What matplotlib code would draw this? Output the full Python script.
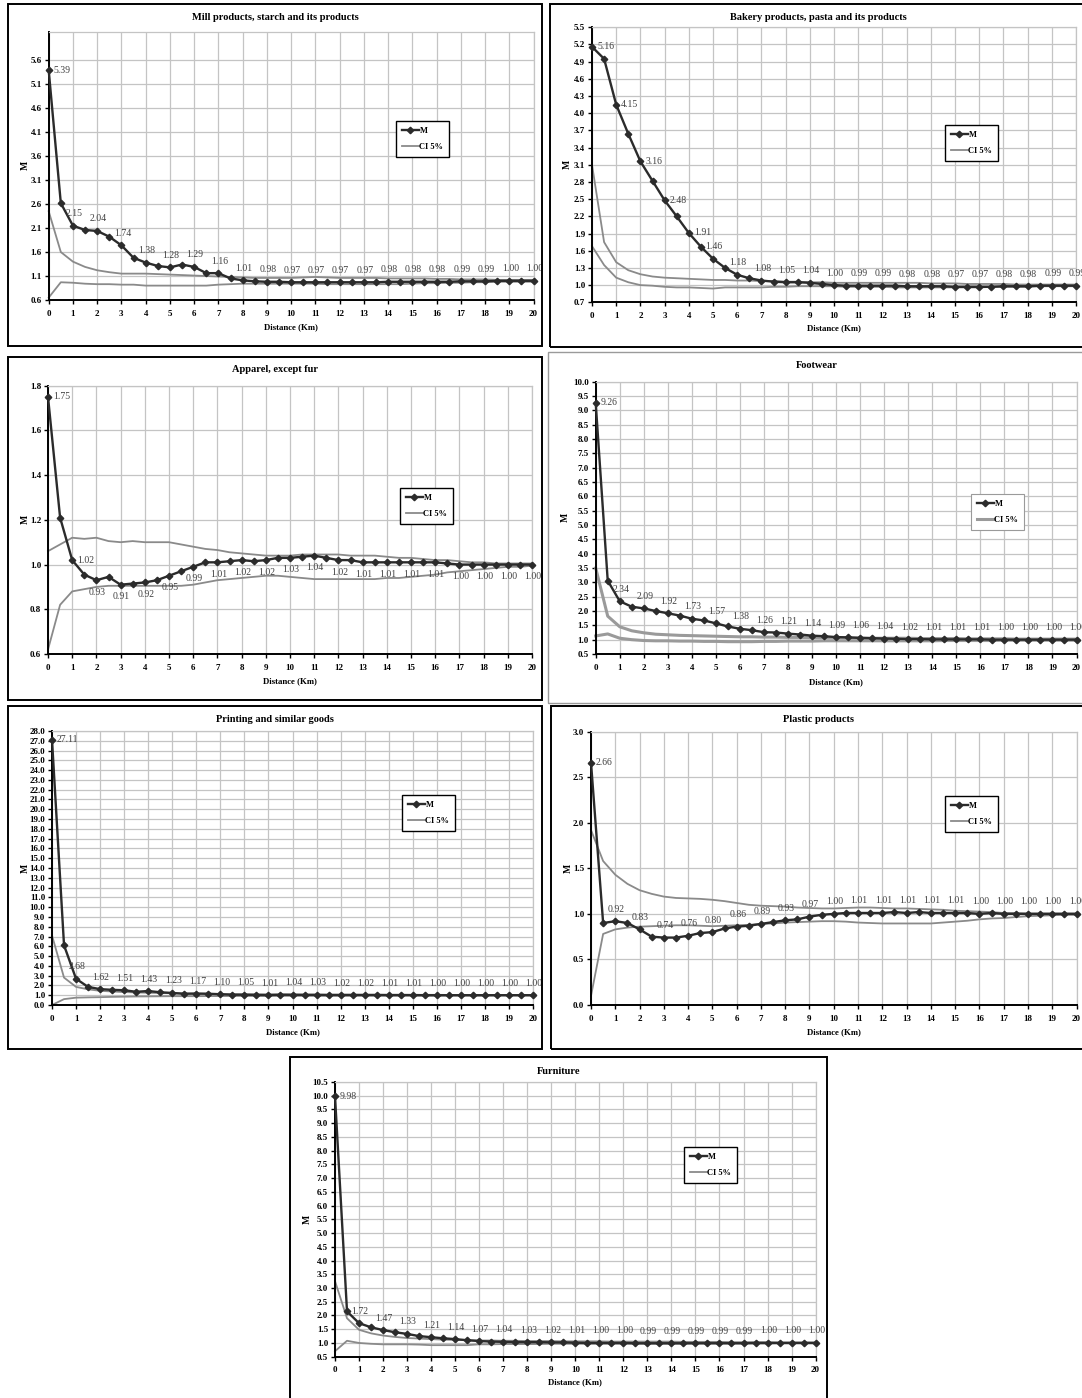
import matplotlib
matplotlib.use("Agg")
import matplotlib.pyplot as plt
from matplotlib.patches import Rectangle
from matplotlib.lines import Line2D

plt.rcParams['font.family'] = ['Liberation Serif', 'DejaVu Serif']

W, H = 1082, 1398

# ---------------- DATA ----------------
distance = [0.0, 0.5, 1.0, 1.5, 2.0, 2.5, 3.0, 3.5, 4.0, 4.5, 5.0, 5.5, 6.0, 6.5, 7.0, 7.5,
            8.0, 8.5, 9.0, 9.5, 10.0, 10.5, 11.0, 11.5, 12.0, 12.5, 13.0, 13.5, 14.0, 14.5,
            15.0, 15.5, 16.0, 16.5, 17.0, 17.5, 18.0, 18.5, 19.0, 19.5, 20.0]
x_ticks = list(range(0, 21))

titles = ["Mill products, starch and its products",
          "Bakery products, pasta and its products",
          "Apparel, except fur",
          "Footwear",
          "Printing and similar goods",
          "Plastic products",
          "Furniture"]

mill_m = [5.39, 2.62, 2.15, 2.06, 2.04, 1.92, 1.74, 1.48, 1.38, 1.31, 1.28, 1.34, 1.29, 1.16, 1.16, 1.05,
          1.01, 0.99, 0.98, 0.98, 0.97, 0.97, 0.97, 0.97, 0.97, 0.97, 0.97, 0.97, 0.98, 0.98,
          0.98, 0.98, 0.98, 0.98, 0.99, 0.99, 0.99, 1.00, 1.00, 1.00, 1.00]
mill_hi = [2.45, 1.60, 1.40, 1.29, 1.22, 1.18, 1.15, 1.15, 1.15, 1.14, 1.13, 1.12, 1.11, 1.10, 1.09, 1.08,
           1.07, 1.06, 1.06, 1.06, 1.06, 1.07, 1.08, 1.07, 1.06, 1.06, 1.06, 1.06, 1.05, 1.05,
           1.05, 1.05, 1.04, 1.04, 1.03, 1.03, 1.03, 1.02, 1.02, 1.02, 1.02]
mill_lo = [0.65, 0.97, 0.96, 0.94, 0.93, 0.93, 0.92, 0.92, 0.90, 0.90, 0.90, 0.90, 0.90, 0.90, 0.92, 0.93,
           0.94, 0.94, 0.94, 0.94, 0.94, 0.94, 0.94, 0.93, 0.93, 0.93, 0.93, 0.93, 0.93, 0.93,
           0.94, 0.95, 0.95, 0.96, 0.96, 0.97, 0.97, 0.98, 0.98, 0.98, 0.98]

bakery_m = [5.16, 4.95, 4.15, 3.64, 3.16, 2.82, 2.48, 2.20, 1.91, 1.67, 1.46, 1.30, 1.18, 1.12, 1.08, 1.06,
            1.05, 1.05, 1.04, 1.02, 1.00, 0.99, 0.99, 0.99, 0.99, 0.99, 0.98, 0.98, 0.98, 0.98,
            0.97, 0.97, 0.97, 0.97, 0.98, 0.98, 0.98, 0.99, 0.99, 0.99, 0.99]
bakery_hi = [3.10, 1.75, 1.40, 1.26, 1.19, 1.15, 1.13, 1.12, 1.11, 1.10, 1.09, 1.09, 1.08, 1.08, 1.07, 1.07,
             1.06, 1.06, 1.05, 1.05, 1.04, 1.04, 1.04, 1.04, 1.04, 1.04, 1.04, 1.04, 1.03, 1.03,
             1.03, 1.02, 1.02, 1.02, 1.02, 1.01, 1.01, 1.01, 1.01, 1.01, 1.01]
bakery_lo = [1.68, 1.35, 1.13, 1.05, 1.00, 0.99, 0.97, 0.96, 0.96, 0.95, 0.94, 0.96, 0.96, 0.96, 0.96, 0.97,
             0.97, 0.98, 0.98, 0.98, 0.98, 0.97, 0.97, 0.97, 0.97, 0.96, 0.96, 0.96, 0.96, 0.96,
             0.96, 0.96, 0.96, 0.97, 0.97, 0.97, 0.97, 0.98, 0.98, 0.98, 0.98]

apparel_m = [1.75, 1.21, 1.02, 0.955, 0.93, 0.945, 0.91, 0.915, 0.92, 0.93, 0.95, 0.97, 0.99, 1.01, 1.01, 1.015,
             1.02, 1.015, 1.02, 1.03, 1.03, 1.035, 1.04, 1.03, 1.02, 1.02, 1.01, 1.01, 1.01, 1.01,
             1.01, 1.01, 1.01, 1.005, 1.00, 1.00, 1.00, 1.00, 1.00, 1.00, 1.00]
apparel_hi = [1.06, 1.09, 1.12, 1.115, 1.12, 1.105, 1.10, 1.105, 1.10, 1.10, 1.10, 1.09, 1.08, 1.07, 1.065, 1.055,
              1.05, 1.045, 1.04, 1.04, 1.04, 1.045, 1.045, 1.045, 1.045, 1.04, 1.04, 1.04, 1.035, 1.03,
              1.03, 1.025, 1.02, 1.02, 1.015, 1.01, 1.01, 1.005, 1.005, 1.005, 1.005]
apparel_lo = [0.62, 0.82, 0.88, 0.89, 0.90, 0.905, 0.905, 0.905, 0.905, 0.905, 0.905, 0.905, 0.91, 0.92, 0.93, 0.935,
              0.94, 0.945, 0.95, 0.95, 0.945, 0.94, 0.935, 0.935, 0.935, 0.935, 0.935, 0.935, 0.94, 0.94,
              0.945, 0.95, 0.955, 0.965, 0.97, 0.975, 0.98, 0.985, 0.99, 0.99, 0.995]

footwear_m = [9.26, 3.06, 2.34, 2.15, 2.09, 2.00, 1.92, 1.84, 1.73, 1.67, 1.57, 1.46, 1.38, 1.33, 1.26, 1.25,
              1.21, 1.18, 1.14, 1.12, 1.09, 1.08, 1.06, 1.05, 1.04, 1.03, 1.02, 1.02, 1.01, 1.01,
              1.01, 1.01, 1.01, 1.00, 1.00, 1.00, 1.00, 1.00, 1.00, 1.00, 1.00]
footwear_hi = [3.50, 1.82, 1.45, 1.31, 1.24, 1.19, 1.17, 1.15, 1.14, 1.13, 1.12, 1.11, 1.10, 1.10, 1.09, 1.09,
               1.08, 1.08, 1.07, 1.07, 1.06, 1.06, 1.06, 1.05, 1.05, 1.05, 1.05, 1.04, 1.04, 1.04,
               1.04, 1.03, 1.03, 1.03, 1.03, 1.02, 1.02, 1.02, 1.02, 1.02, 1.02]
footwear_lo = [1.13, 1.20, 1.05, 1.00, 0.97, 0.96, 0.96, 0.95, 0.95, 0.94, 0.94, 0.93, 0.93, 0.93, 0.94, 0.94,
               0.95, 0.95, 0.95, 0.96, 0.96, 0.96, 0.96, 0.96, 0.96, 0.96, 0.96, 0.96, 0.96, 0.97,
               0.97, 0.97, 0.97, 0.97, 0.98, 0.98, 0.98, 0.98, 0.98, 0.98, 0.98]

printing_m = [27.11, 6.10, 2.68, 1.85, 1.62, 1.55, 1.51, 1.35, 1.43, 1.30, 1.23, 1.15, 1.17, 1.15, 1.10, 1.05,
              1.05, 1.03, 1.01, 1.05, 1.04, 1.03, 1.03, 1.02, 1.02, 1.02, 1.02, 1.02, 1.01, 1.01,
              1.01, 1.00, 1.00, 1.00, 1.00, 1.00, 1.00, 1.00, 1.00, 1.00, 1.00]
printing_hi = [7.10, 2.80, 1.85, 1.60, 1.45, 1.38, 1.32, 1.28, 1.25, 1.22, 1.20, 1.17, 1.15, 1.14, 1.12, 1.11,
               1.10, 1.09, 1.09, 1.08, 1.08, 1.07, 1.07, 1.06, 1.06, 1.06, 1.05, 1.05, 1.05, 1.05,
               1.04, 1.04, 1.04, 1.03, 1.03, 1.03, 1.03, 1.02, 1.02, 1.02, 1.02]
printing_lo = [0.00, 0.60, 0.75, 0.78, 0.80, 0.83, 0.85, 0.87, 0.88, 0.89, 0.90, 0.90, 0.90, 0.91, 0.91, 0.92,
               0.92, 0.92, 0.93, 0.93, 0.93, 0.94, 0.94, 0.94, 0.94, 0.95, 0.95, 0.95, 0.95, 0.96,
               0.96, 0.96, 0.96, 0.97, 0.97, 0.97, 0.97, 0.98, 0.98, 0.98, 0.98]

plastic_m = [2.66, 0.90, 0.92, 0.90, 0.83, 0.75, 0.74, 0.74, 0.76, 0.79, 0.80, 0.84, 0.86, 0.87, 0.89, 0.91,
             0.93, 0.94, 0.97, 0.99, 1.00, 1.01, 1.01, 1.01, 1.01, 1.02, 1.01, 1.02, 1.01, 1.01,
             1.01, 1.01, 1.00, 1.01, 1.00, 1.00, 1.00, 1.00, 1.00, 1.00, 1.00]
plastic_hi = [1.92, 1.58, 1.43, 1.33, 1.26, 1.22, 1.19, 1.175, 1.17, 1.165, 1.155, 1.14, 1.12, 1.10, 1.09, 1.085,
              1.08, 1.07, 1.065, 1.06, 1.06, 1.065, 1.07, 1.07, 1.065, 1.06, 1.06, 1.055, 1.05, 1.045,
              1.035, 1.03, 1.025, 1.02, 1.01, 1.01, 1.005, 1.005, 1.005, 1.005, 1.005]
plastic_lo = [0.10, 0.78, 0.83, 0.85, 0.86, 0.865, 0.87, 0.875, 0.875, 0.87, 0.865, 0.87, 0.875, 0.88, 0.89, 0.895,
              0.905, 0.91, 0.915, 0.92, 0.92, 0.915, 0.905, 0.90, 0.895, 0.895, 0.895, 0.895, 0.895, 0.905,
              0.915, 0.925, 0.94, 0.95, 0.955, 0.965, 0.975, 0.98, 0.985, 0.99, 0.99]

furniture_m = [9.98, 2.15, 1.72, 1.57, 1.47, 1.39, 1.33, 1.25, 1.21, 1.17, 1.14, 1.10, 1.07, 1.05, 1.04, 1.03,
               1.03, 1.03, 1.02, 1.02, 1.01, 1.00, 1.00, 1.00, 1.00, 0.99, 0.99, 0.99, 0.99, 0.99,
               0.99, 0.99, 0.99, 0.99, 0.99, 1.00, 1.00, 1.00, 1.00, 1.00, 1.00]
furniture_hi = [3.25, 1.90, 1.48, 1.35, 1.27, 1.22, 1.18, 1.16, 1.14, 1.12, 1.11, 1.10, 1.09, 1.09, 1.08, 1.08,
                1.07, 1.07, 1.07, 1.06, 1.06, 1.06, 1.06, 1.05, 1.05, 1.05, 1.05, 1.05, 1.05, 1.04,
                1.04, 1.04, 1.04, 1.03, 1.03, 1.03, 1.03, 1.02, 1.02, 1.02, 1.02]
furniture_lo = [0.70, 1.08, 1.00, 0.97, 0.95, 0.95, 0.95, 0.94, 0.92, 0.92, 0.92, 0.92, 0.95, 0.95, 0.96, 0.96,
                0.96, 0.96, 0.97, 0.97, 0.97, 0.97, 0.97, 0.97, 0.97, 0.97, 0.97, 0.97, 0.97, 0.97,
                0.98, 0.98, 0.98, 0.98, 0.98, 0.98, 0.98, 0.99, 0.99, 0.99, 0.99]

# y-axis ranges / ticks (min, max, step) per panel
y_ranges = [(0.6, 6.2, 0.5), (0.7, 5.5, 0.3), (0.6, 1.8, 0.2), (0.5, 10.0, 0.5),
            (0.0, 28.0, 1.0), (0.0, 3.0, 0.5), (0.5, 10.5, 0.5)]
y_top_tick = [5.6, 5.5, 1.8, 10.0, 28.0, 3.0, 10.5]

series_m = [mill_m, bakery_m, apparel_m, footwear_m, printing_m, plastic_m, furniture_m]
series_hi = [mill_hi, bakery_hi, apparel_hi, footwear_hi, printing_hi, plastic_hi, furniture_hi]
series_lo = [mill_lo, bakery_lo, apparel_lo, footwear_lo, printing_lo, plastic_lo, furniture_lo]

# ---------------- LAYOUT (pixels) ----------------
# frame (l, t, r, b), axes (l, t, r, b), legend top-left (x, y)
frames = [(8, 4, 542, 346), (550, 4, 1086, 347), (8, 357, 542, 700), (548, 352, 1086, 703),
          (8, 706, 542, 1049), (551, 706, 1086, 1049), (290, 1057, 827, 1402)]
frame_style = [('black', 1.4), ('black', 1.4), ('black', 1.4), ('#9a9a9a', 1.0),
               ('black', 1.4), ('black', 1.4), ('black', 1.4)]
axes_px = [(48.7, 31.5, 533.5, 300), (592, 27.3, 1076, 302.3), (48, 385.7, 532, 654),
           (595.7, 381.7, 1076.5, 654), (52, 731, 533, 1005), (591, 731.7, 1076.5, 1005),
           (335, 1082, 815.6, 1356.7)]
title_y = [17, 17, 370, 366, 719, 719, 1071]
xlabel_y = [327, 328, 681, 682, 1032, 1032, 1382]
legend_xy = [(396, 121), (945, 125), (400, 488), (971, 494), (402, 795), (945, 796), (684, 1147)]
legend_edge = ['black', 'black', 'black', '#9a9a9a', 'black', 'black', 'black']

# label placement per panel: 'R' right, 'A' above, 'B' below (for integer distances)
label_pos = [
    ['R'] + ['A'] * 20,
    ['R'] * 5 + ['A'] * 16,
    ['R', 'R'] + ['B'] * 19,
    ['R'] + ['A'] * 20,
    ['R'] + ['A'] * 20,
    ['R'] + ['A'] * 20,
    ['R'] + ['A'] * 20,
]

M_COLOR = '#2b2b2b'
CI_COLOR = '#8a8a8a'
GRID = '#c4c4c4'


def frac_rect(l, t, r, b):
    return [l / W, 1 - b / H, (r - l) / W, (b - t) / H]


fig = plt.figure(figsize=(W / 100, H / 100), dpi=100)
fig.patch.set_facecolor('white')

for i in range(7):
    fl, ft, fr, fb = frames[i]
    ec, lw = frame_style[i]
    fig.add_artist(Rectangle((fl / W, 1 - fb / H), (fr - fl) / W, (fb - ft) / H,
                             transform=fig.transFigure, fill=False, edgecolor=ec, linewidth=lw))

    al, at, ar, ab = axes_px[i]
    ax = fig.add_axes(frac_rect(al, at, ar, ab))
    ymin, ymax, ystep = y_ranges[i]
    ax.set_xlim(0, 20)
    ax.set_ylim(ymin, ymax)
    n = int(round((y_top_tick[i] - ymin) / ystep))
    yt = [ymin + k * ystep for k in range(n + 1)]
    ax.set_yticks(yt)
    ax.set_yticklabels([f"{v:.1f}" for v in yt])
    ax.set_xticks(x_ticks)
    ax.set_xticklabels([str(v) for v in x_ticks])
    for lab in ax.get_xticklabels() + ax.get_yticklabels():
        lab.set_fontweight('bold')
        lab.set_fontsize(6.5)
    ax.tick_params(axis='both', direction='out', length=3, width=1, pad=2, color='black')
    ax.tick_params(axis='x', pad=4)
    ax.grid(True, color=GRID, linewidth=0.9)
    ax.set_axisbelow(True)
    for s in ['left', 'bottom']:
        ax.spines[s].set_color('black')
        ax.spines[s].set_linewidth(1.4)
    for s in ['top', 'right']:
        ax.spines[s].set_color(GRID)
        ax.spines[s].set_linewidth(0.9)

    ci_lw = 2.2 if i == 3 else 1.3
    ci_col = '#9a9a9a' if i == 3 else CI_COLOR
    ax.plot(distance, series_hi[i], color=ci_col, linewidth=ci_lw, zorder=2, clip_on=False)
    ax.plot(distance, series_lo[i], color=ci_col, linewidth=ci_lw, zorder=2, clip_on=False)
    ax.plot(distance, series_m[i], color=M_COLOR, linewidth=1.7, marker='D', markersize=3.3,
            markerfacecolor=M_COLOR, markeredgecolor=M_COLOR, zorder=3, clip_on=False)

    # data labels at whole-kilometre points
    k = 0
    for xv, yv in zip(distance, series_m[i]):
        if float(xv).is_integer():
            pos = label_pos[i][k]
            k += 1
            txt = f"{yv:.2f}"
            if pos == 'R':
                ax.annotate(txt, (xv, yv), xytext=(5, 0), textcoords='offset pixels',
                            ha='left', va='center', fontsize=7, color='#404040', zorder=4)
            elif pos == 'A':
                ax.annotate(txt, (xv, yv), xytext=(1, 12), textcoords='offset pixels',
                            ha='center', va='center', fontsize=7, color='#404040', zorder=4)
            else:
                ax.annotate(txt, (xv, yv), xytext=(1, -12), textcoords='offset pixels',
                            ha='center', va='center', fontsize=7, color='#404040', zorder=4)

    # titles and axis labels
    fig.text((fl + fr) / 2 / W, 1 - title_y[i] / H, titles[i], ha='center', va='center',
             fontsize=7.5, fontweight='bold')
    fig.text((al + ar) / 2 / W, 1 - xlabel_y[i] / H, "Distance (Km)", ha='center', va='center',
             fontsize=6.3, fontweight='bold')
    fig.text((fl + 17) / W, 1 - (at + ab) / 2 / H, "M", ha='center', va='center',
             fontsize=7, fontweight='bold', rotation=90)

    handles = [Line2D([], [], color=M_COLOR, linewidth=1.7, marker='D', markersize=3.3),
               Line2D([], [], color=ci_col, linewidth=ci_lw)]
    lx, ly = legend_xy[i]
    leg = ax.legend(handles, ["M", "CI 5%"], loc='upper left',
                    bbox_to_anchor=(lx / W, 1 - ly / H), bbox_transform=fig.transFigure,
                    fancybox=False, framealpha=1, edgecolor=legend_edge[i],
                    prop={'weight': 'bold', 'size': 6}, handlelength=2.0, handletextpad=0.1,
                    borderpad=0.7, labelspacing=1.0, borderaxespad=0)
    leg.get_frame().set_linewidth(1.0 if i != 3 else 0.8)

fig.savefig("out.png", dpi=100, facecolor='white')
